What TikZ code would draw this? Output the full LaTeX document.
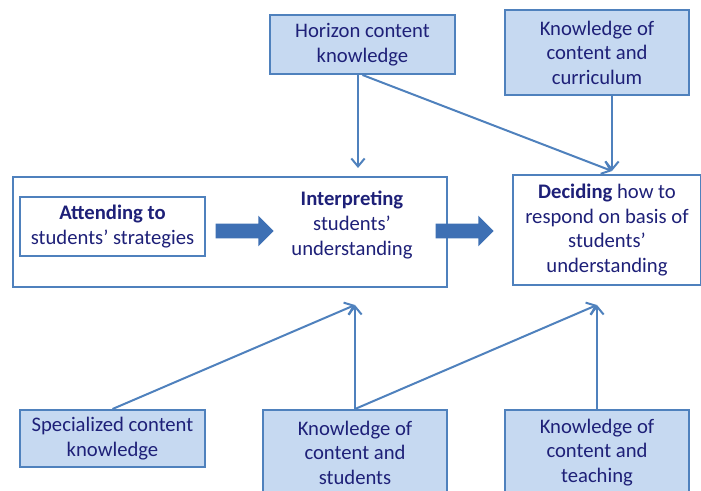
\documentclass[tikz,border=0pt]{standalone}
\usepackage{fontspec}
\setmainfont{Carlito}
\usetikzlibrary{arrows.meta}
\usetikzlibrary{shapes.arrows}
\definecolor{boxFill}{RGB}{198,217,241}
\definecolor{boxLine}{RGB}{79,129,189}
\definecolor{boxText}{RGB}{30,32,120}
\definecolor{arrowFill}{RGB}{62,112,180}

\begin{document}
\begin{tikzpicture}
[x=0.75pt,y=-0.75pt,%
  knowDecorate/.style={draw=boxLine,line width=1.5pt,fill=boxFill,align=center,inner sep=0pt},%
  frameDecorate/.style={draw=boxLine,line width=1.5pt,fill=white,align=center,inner sep=0pt},%
  lineDecorate/.style={draw=boxLine,line width=1.5pt,-{Straight Barb[length=6pt,width=10pt,line width=1.5pt]}},%
  arrowDecorate/.style={single arrow,fill=arrowFill,inner sep=5.25pt,single arrow head extend=6pt,minimum height=43.5pt}]
\useasboundingbox (0,0) rectangle (701,491);
\fontsize{15.5}{18.4}\selectfont
\color{boxText}
%% top boxes
\node[knowDecorate,minimum width=138.75pt,minimum height=44.25pt] (horizon) at (362.5,44.5)
  {Horizon content\\knowledge};
\node[knowDecorate,minimum width=138pt,minimum height=63.75pt] (kcc) at (597,52.5)
  {Knowledge of\\content and\\curriculum};
%% middle boxes
\node[frameDecorate,minimum width=325.5pt,minimum height=82.5pt] (frame) at (230,232) {};
\node[frameDecorate,minimum width=138.75pt,minimum height=44.25pt] (attend) at (112.5,226.5)
  {\textbf{Attending to}\\students’ strategies};
\node[align=center] (interp) at (352,225)
  {\textbf{Interpreting}\\students’\\understanding};
\node[frameDecorate,minimum width=141pt,minimum height=82.5pt] (decide) at (607,230)
  {\textbf{Deciding} how to\\respond on basis of\\students’\\understanding};
%% bottom boxes
\node[knowDecorate,minimum width=138.75pt,minimum height=42.75pt] (spec) at (112.5,438.5)
  {Specialized content\\knowledge};
\foreach \nodename/\x/\last in {kcs/355/students, kct/597/teaching}
{
  \node[knowDecorate,minimum width=138pt,minimum height=63.75pt] (\nodename) at (\x,452.5)
    {Knowledge of\\content and\\\last};
}
%% block arrows
\node[arrowDecorate] (step1) at (241,231) {};
\node[arrowDecorate] (step2) at (461,231) {};
%% arrow ends
\coordinate (itop) at (358,168);
\coordinate (dtop) at (612,171);
\coordinate (ibot) at (355,305);
\coordinate (dbot) at (597,305);
%% connect knowledge boxes
\path
(horizon.south -| itop) edge[lineDecorate] (itop)
(horizon.south) edge[lineDecorate] (dtop)
(kcc.south -| dtop) edge[lineDecorate] (dtop)
(spec.north) edge[lineDecorate] (ibot)
(kcs.north) edge[lineDecorate] (ibot)
(kcs.north) edge[lineDecorate] (dbot)
(kct.north) edge[lineDecorate] (dbot);
\end{tikzpicture}
\end{document}
